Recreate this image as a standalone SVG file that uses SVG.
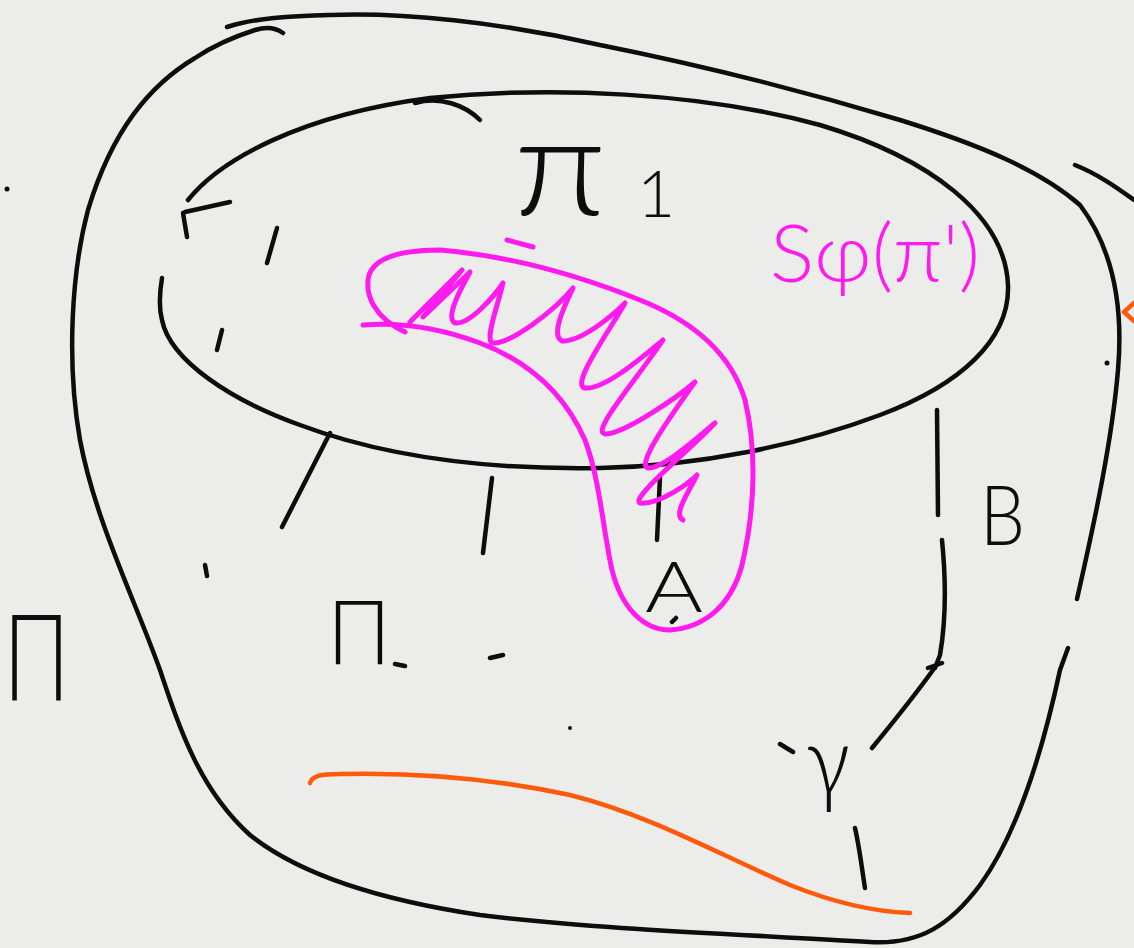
<svg xmlns="http://www.w3.org/2000/svg" width="1134" height="948" viewBox="0 0 1134 948">
<style>
.k{fill:none;stroke:#0d0d0d;stroke-width:4.5;stroke-linecap:round;stroke-linejoin:round}
.m{fill:none;stroke:#ff1af0;stroke-width:5;stroke-linecap:round;stroke-linejoin:round}
.o{fill:none;stroke:#ff5a0a;stroke-width:4.5;stroke-linecap:round;stroke-linejoin:round}
.t{font-family:Lato,"DejaVu Sans",sans-serif;font-weight:300;fill:#0d0d0d}
.tm{font-family:Lato,"DejaVu Sans",sans-serif;font-weight:300;fill:#ff1af0}
</style>
<rect width="1134" height="948" fill="#ececea"/>
<g id="outer">
<path class="k" d="M283,33 C276,28 268,26 255,30 C230,38 210,48 195,58 C150,85 112,130 88,210 C72,270 66,360 80,440 C95,520 135,600 160,670 C180,730 200,790 250,835 C300,875 380,900 480,915 C600,930 760,935 870,942 C920,945 950,925 980,885 C1020,830 1045,740 1060,670 L1068,648"/>
<path class="k" d="M1077,599 C1095,520 1112,440 1118,370 C1124,300 1110,245 1080,205 C1040,170 980,145 900,120 C800,90 700,65 600,45 C500,22 400,12 330,15 C290,16 255,18 227,27"/>
<path class="k" d="M1075,165 C1100,175 1120,190 1134,200"/>
<circle cx="7" cy="189" r="2.5" fill="#0d0d0d"/>
<circle cx="1107" cy="363" r="2.5" fill="#0d0d0d"/>
</g>
<g id="inner">
<path class="k" d="M188,200 C220,160 300,115 430,98 C550,86 700,92 820,125 C930,158 1005,215 1008,285 C1010,340 960,385 880,415 C800,445 700,466 600,468 C480,470 380,455 300,425 C230,400 170,360 162,320 C158,305 160,290 162,278"/>
<path class="k" d="M415,103 C440,96 465,105 480,120"/>
<path class="k" d="M230,202 L185,212 M183,213 L187,237"/>
<path class="k" d="M277,228 L267,263 M222,330 L217,350"/>
</g>
<g id="strokes">
<path class="k" d="M330,433 L282,527 M492,478 L483,553 M205,565 L207,576"/>
<path class="k" d="M660,477 L657,540"/>
<path class="k" d="M937,410 L938,515 M942,540 C946,580 946,620 940,655 L935,668 M928,668 L942,663 M933,670 C915,695 895,720 872,748"/>
<path class="k" d="M780,744 L793,752 M855,828 C860,850 862,870 865,888"/>
<path class="k" d="M395,664 L405,666 M490,658 L503,655 M672,622 L676,618"/>
<circle cx="570" cy="728" r="2" fill="#0d0d0d"/>
</g>
<g id="orange">
<path class="o" d="M310,783 C312,776 320,774 340,774 C420,772 500,780 570,795 C650,815 720,855 790,885 C840,905 880,912 910,913"/>
<path class="o" d="M1134,303 L1124,312 L1134,321"/>
</g>
<g id="sphi">
<path class="m" d="M363,325 C400,322 440,328 480,343 C530,362 565,395 585,440 C600,480 603,530 612,570 C622,610 645,630 670,630 C700,628 730,610 742,565 C755,510 757,450 745,400 C730,350 690,320 640,300 C570,272 500,255 440,250 C400,250 375,258 369,275 C364,295 375,318 405,332"/>
<path class="m" d="M507,240 L533,247"/>
<path class="m" d="M410,322 L462,270 L423,317 L470,272 C460,290 445,318 455,323 C470,325 495,295 503,283 C498,305 485,338 492,343 C510,345 555,310 573,288 C565,305 550,335 562,341 C580,342 610,318 625,303 C610,330 570,385 585,388 C605,390 645,355 663,340 C640,375 590,432 605,434 C625,434 680,395 695,382 C675,410 635,465 648,468 C665,468 700,435 715,423 C690,450 630,498 640,503 C660,505 690,482 697,475 C690,490 672,515 683,520"/>
<text class="tm" x="770" y="282" font-size="80" textLength="210" lengthAdjust="spacingAndGlyphs">Sφ(π')</text>
</g>
<g id="labels">
<text class="t" x="3" y="700" font-size="120" textLength="67" lengthAdjust="spacingAndGlyphs">Π</text>
<text class="t" x="327" y="664" font-size="88" textLength="64" lengthAdjust="spacingAndGlyphs">Π</text>
<text class="t" x="514" y="215" font-size="140" font-weight="200" textLength="92" lengthAdjust="spacingAndGlyphs">π</text>
<text class="t" x="637" y="217" font-size="66">1</text>
<text class="t" x="645" y="612" font-size="70" textLength="58" lengthAdjust="spacingAndGlyphs">A</text>
<text class="t" x="980" y="545" font-size="82" textLength="45" lengthAdjust="spacingAndGlyphs">B</text>
<text class="t" x="806" y="795" font-size="96" textLength="44" lengthAdjust="spacingAndGlyphs">γ</text>
</g>
</svg>
